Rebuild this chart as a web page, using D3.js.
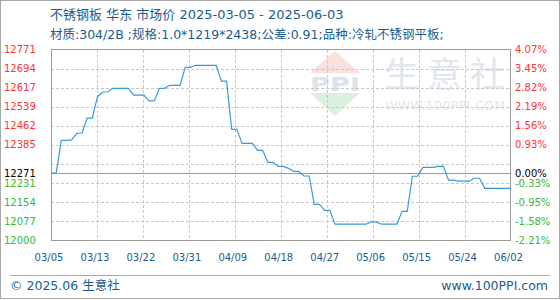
<!DOCTYPE html>
<html>
<head>
<meta charset="utf-8">
<script src="https://cdn.jsdelivr.net/npm/d3@7"></script>
<style>
  html, body { margin: 0; padding: 0; background: #fff; }
  svg { display: block; }
  text { font-family: "DejaVu Sans", "Noto Sans CJK SC", sans-serif; }
</style>
</head>
<body>
<script>
// chart values
var titleText = '不锈钢板 华东 市场价 2025-03-05 - 2025-06-03';
var subTitleText = '材质:304/2B ;规格:1.0*1219*2438;公差:0.91;品种:冷轧不锈钢平板;';
var startDate = '2025-03-05';
var basePrice = 12271;

// daily price, 03/05 .. 06/02
var prices = [
  12271, 12271, 12403, 12403, 12405, 12432, 12432, 12493, 12493, 12580,
  12598, 12600, 12614, 12614, 12614, 12614, 12586, 12586, 12586, 12563,
  12563, 12614, 12614, 12626, 12626, 12626, 12699, 12699, 12707, 12707,
  12707, 12707, 12707, 12643, 12643, 12448, 12448, 12391, 12391, 12391,
  12363, 12363, 12314, 12314, 12298, 12298, 12290, 12278, 12278, 12259,
  12259, 12144, 12144, 12120, 12120, 12064, 12064, 12064, 12064, 12064,
  12064, 12064, 12073, 12073, 12064, 12064, 12064, 12064, 12116, 12116,
  12258, 12258, 12294, 12294, 12294, 12298, 12298, 12242, 12242, 12238,
  12238, 12238, 12250, 12250, 12209, 12209, 12209, 12209, 12209, 12209
];

var xTickLabels = ['03/05', '03/13', '03/22', '03/31', '04/09', '04/18', '04/27', '05/06', '05/15', '05/24', '06/02'];
var yTickValues = [12771, 12694, 12617, 12539, 12462, 12385, 12271, 12231, 12154, 12077, 12000];
var yTickLabels = ['12771', '12694', '12617', '12539', '12462', '12385', '12271', '12231', '12154', '12077', '12000'];
var pctTickLabels = ['4.07%', '3.45%', '2.82%', '2.19%', '1.56%', '0.93%', '0.00%', '-0.33%', '-0.95%', '-1.58%', '-2.21%'];
var gridValues = [12077, 12154, 12231, 12308, 12385, 12462, 12539, 12617, 12694];

var W = 560, H = 300;
var plotL = 51, plotR = 510.5, plotT = 49.5, plotB = 240;

var parse = d3.timeParse('%Y-%m-%d');
var t0 = parse(startDate);
var data = prices.map(function(v, i) {
  return { date: d3.timeDay.offset(t0, i), value: v };
});

var x = d3.scaleTime()
  .domain([data[0].date, data[data.length - 1].date])
  .range([plotL, plotR]);
var y = d3.scaleLinear()
  .domain([12000, 12771])
  .range([plotB, plotT]);
var xTick = d3.scalePoint()
  .domain(xTickLabels)
  .range([plotL, plotR]);

function labelColor(v) {
  if (v > basePrice) return '#ff3333';
  if (v < basePrice) return '#33bb33';
  return '#000';
}

var svg = d3.select('body').append('svg')
  .attr('width', W)
  .attr('height', H);

// outer frame
svg.append('rect')
  .attr('x', 0.5).attr('y', 0.5)
  .attr('width', W - 1).attr('height', H - 2)
  .attr('fill', '#fff')
  .attr('stroke', '#a8a8a8');

// watermark
var wm = svg.append('g');
wm.append('path')
  .attr('d', 'M310,73 L335,51 L360,73 Z')
  .attr('fill', '#f9e0dc');
wm.append('text')
  .attr('x', 310).attr('y', 91)
  .attr('font-family', 'DejaVu Serif')
  .attr('font-weight', 'bold')
  .attr('font-size', 19)
  .attr('textLength', 50)
  .attr('lengthAdjust', 'spacingAndGlyphs')
  .attr('fill', '#dde2ee')
  .text('PPI');
wm.append('path')
  .attr('d', 'M310,93 L360,93 L335,116 Z')
  .attr('fill', '#dcf0df');
wm.append('text')
  .attr('x', 384).attr('y', 87)
  .attr('font-size', 35)
  .attr('textLength', 121)
  .attr('fill', '#e2e6f0')
  .text('生意社');
wm.append('text')
  .attr('x', 385).attr('y', 110)
  .attr('font-family', 'Liberation Sans')
  .attr('font-size', 12.5)
  .attr('textLength', 120)
  .attr('fill', '#e6e6e6')
  .text('WWW.100PPI.COM');

// titles
svg.append('text')
  .attr('x', 50).attr('y', 19)
  .attr('font-size', 13)
  .attr('fill', '#1a5d8c')
  .text(titleText);
svg.append('text')
  .attr('x', 50).attr('y', 39)
  .attr('font-size', 12.5)
  .attr('fill', '#1a5d8c')
  .text(subTitleText);

// grid
var grid = svg.append('g')
  .attr('stroke', '#c8c8c8')
  .attr('stroke-dasharray', '3,2')
  .attr('shape-rendering', 'crispEdges');
grid.selectAll('line.h')
  .data(gridValues)
  .enter().append('line')
  .attr('class', 'h')
  .attr('x1', plotL).attr('x2', plotR)
  .attr('y1', function(d) { return Math.round(y(d)) + 0.5; })
  .attr('y2', function(d) { return Math.round(y(d)) + 0.5; });
grid.selectAll('line.v')
  .data(xTickLabels.slice(1, -1))
  .enter().append('line')
  .attr('class', 'v')
  .attr('y1', plotT).attr('y2', plotB)
  .attr('x1', function(d) { return Math.round(xTick(d)) + 0.5; })
  .attr('x2', function(d) { return Math.round(xTick(d)) + 0.5; });

// base price line
svg.append('line')
  .attr('x1', plotL).attr('x2', plotR)
  .attr('y1', Math.round(y(basePrice)) + 0.5)
  .attr('y2', Math.round(y(basePrice)) + 0.5)
  .attr('stroke', '#999')
  .attr('shape-rendering', 'crispEdges');

// plot frame
svg.append('rect')
  .attr('x', plotL).attr('y', plotT)
  .attr('width', plotR - plotL).attr('height', plotB - plotT)
  .attr('fill', 'none')
  .attr('stroke', '#999')
  .attr('shape-rendering', 'crispEdges');

// price line
var line = d3.line()
  .x(function(d) { return x(d.date); })
  .y(function(d) { return y(d.value); });
svg.append('path')
  .datum(data)
  .attr('d', line)
  .attr('fill', 'none')
  .attr('stroke', '#3a9ad8')
  .attr('stroke-width', 1.2);

// left axis labels
svg.append('g').selectAll('text')
  .data(yTickValues)
  .enter().append('text')
  .attr('x', 4)
  .attr('y', function(d) { return y(d); })
  .attr('dy', '0.36em')
  .attr('font-size', 10)
  .attr('fill', labelColor)
  .text(function(d, i) { return yTickLabels[i]; });

// right axis labels
svg.append('g').selectAll('text')
  .data(yTickValues)
  .enter().append('text')
  .attr('x', 515)
  .attr('y', function(d) { return y(d); })
  .attr('dy', '0.36em')
  .attr('font-size', 10)
  .attr('fill', labelColor)
  .text(function(d, i) { return pctTickLabels[i]; });

// x axis labels
svg.append('g').selectAll('text')
  .data(xTickLabels)
  .enter().append('text')
  .attr('x', function(d) { return xTick(d) - 2; })
  .attr('y', 261)
  .attr('text-anchor', 'middle')
  .attr('font-size', 10)
  .attr('fill', '#1a5d8c')
  .text(function(d) { return d; });

// footer
svg.append('line')
  .attr('x1', 10).attr('x2', 550)
  .attr('y1', 275.5).attr('y2', 275.5)
  .attr('stroke', '#aaa');
svg.append('text')
  .attr('x', 10).attr('y', 290)
  .attr('font-size', 12.5)
  .attr('fill', '#1a5d8c')
  .text('© 2025.06 生意社');
svg.append('text')
  .attr('x', 548).attr('y', 290)
  .attr('text-anchor', 'end')
  .attr('font-size', 12.5)
  .attr('fill', '#1a5d8c')
  .text('www.100PPI.com');
</script>
</body>
</html>
